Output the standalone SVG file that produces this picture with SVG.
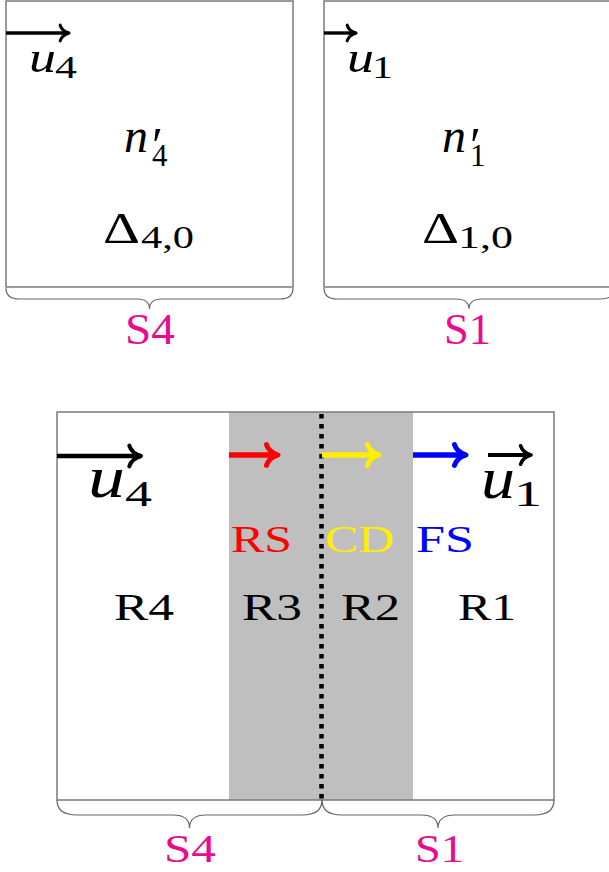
<svg xmlns="http://www.w3.org/2000/svg" width="609" height="872" viewBox="0 0 609 872">
<style>
.box{fill:none;stroke:#7a7a7a;stroke-width:1.5}
.brace{fill:none;stroke:#666;stroke-width:1.2}
.m{font-family:"Liberation Serif","DejaVu Serif",serif;font-style:italic;fill:#000}
.r{font-family:"Liberation Serif","DejaVu Serif",serif;fill:#000}
.up{font-style:normal}
.lab{font-family:"Liberation Serif","DejaVu Serif",serif;fill:#ea0a8c}
.arr{fill:none;stroke-linecap:butt}
</style>
<defs>
<marker id="hk" viewBox="-4 -4 6 8" markerWidth="6" markerHeight="8" refX="0" refY="0" orient="auto" markerUnits="strokeWidth" overflow="visible">
<path d="M-2.6,-2.3 C-2.2,-1 -1,-0.3 0,0 C-1,0.3 -2.2,1 -2.6,2.3" fill="none" stroke="#000" stroke-width="0.9" stroke-linecap="round" stroke-linejoin="round"/>
</marker>
<marker id="hr" viewBox="-4 -4 6 8" markerWidth="6" markerHeight="8" refX="0" refY="0" orient="auto" markerUnits="strokeWidth" overflow="visible">
<path d="M-2.1,-1.9 C-1.8,-0.9 -0.9,-0.3 0,0 C-0.9,0.3 -1.8,0.9 -2.1,1.9" fill="none" stroke="#ff0000" stroke-width="0.9" stroke-linecap="round" stroke-linejoin="round"/>
</marker>
<marker id="hy" viewBox="-4 -4 6 8" markerWidth="6" markerHeight="8" refX="0" refY="0" orient="auto" markerUnits="strokeWidth" overflow="visible">
<path d="M-2.1,-1.9 C-1.8,-0.9 -0.9,-0.3 0,0 C-0.9,0.3 -1.8,0.9 -2.1,1.9" fill="none" stroke="#ffee00" stroke-width="0.9" stroke-linecap="round" stroke-linejoin="round"/>
</marker>
<marker id="hb" viewBox="-4 -4 6 8" markerWidth="6" markerHeight="8" refX="0" refY="0" orient="auto" markerUnits="strokeWidth" overflow="visible">
<path d="M-2.1,-1.9 C-1.8,-0.9 -0.9,-0.3 0,0 C-0.9,0.3 -1.8,0.9 -2.1,1.9" fill="none" stroke="#0000ff" stroke-width="0.9" stroke-linecap="round" stroke-linejoin="round"/>
</marker>
</defs>

<g id="state-S4">
<rect class="box" x="6" y="1" width="287" height="286"/>
<text class="m" x="29" y="72" font-size="44" textLength="27" lengthAdjust="spacingAndGlyphs">u</text>
<text class="r" x="55" y="78" font-size="31" textLength="22" lengthAdjust="spacingAndGlyphs">4</text>
<text class="m"><tspan x="124" y="152" font-size="48">n</tspan><tspan class="up" x="152" y="162" font-size="50">′</tspan><tspan class="up" x="152" y="166" font-size="31">4</tspan></text>
<text class="r" x="103" y="243" font-size="45" textLength="37" lengthAdjust="spacingAndGlyphs">Δ</text>
<text class="r" x="141" y="248" font-size="31" textLength="53" lengthAdjust="spacingAndGlyphs">4,0</text>
<path class="brace" d="M6,288 C6,295 10,299 19,299 L137,299 C145,299 149.5,302 149.5,309 C149.5,302 154,299 162,299 L280,299 C289,299 293,295 293,288"/>
<text class="lab" x="125" y="344" font-size="45" textLength="50" lengthAdjust="spacingAndGlyphs">S4</text>
</g>

<g id="state-S1">
<rect class="box" x="324" y="1" width="300" height="286"/>
<text class="m" x="347" y="72" font-size="44" textLength="27" lengthAdjust="spacingAndGlyphs">u</text>
<text class="r" x="372" y="78" font-size="31" textLength="21" lengthAdjust="spacingAndGlyphs">1</text>
<text class="m"><tspan x="442" y="152" font-size="48">n</tspan><tspan class="up" x="470" y="162" font-size="50">′</tspan><tspan class="up" x="470" y="166" font-size="31">1</tspan></text>
<text class="r" x="422" y="243" font-size="45" textLength="37" lengthAdjust="spacingAndGlyphs">Δ</text>
<text class="r" x="458" y="248" font-size="31" textLength="55" lengthAdjust="spacingAndGlyphs">1,0</text>
<path class="brace" d="M324,288 C324,295 328,299 337,299 L456,299 C464,299 469,302 469,309 C469,302 474,299 482,299 L601,299 C610,299 614,295 614,288"/>
<text class="lab" x="444" y="344" font-size="45" textLength="47" lengthAdjust="spacingAndGlyphs">S1</text>
</g>

<g id="solution">
<rect x="229" y="412" width="184" height="388" fill="#bfbfbf"/>
<rect class="box" x="57" y="412" width="497" height="388"/>
<line x1="321.5" y1="414" x2="321.5" y2="800" stroke="#000" stroke-width="4.5" stroke-dasharray="4.5 5.5"/>
</g>

<g id="region-R4"><text class="r" x="114" y="620" font-size="38.5" textLength="60" lengthAdjust="spacingAndGlyphs">R4</text></g>
<g id="region-R3"><text class="r" x="242" y="620" font-size="38.5" textLength="60" lengthAdjust="spacingAndGlyphs">R3</text></g>
<g id="region-R2"><text class="r" x="341" y="620" font-size="38.5" textLength="59" lengthAdjust="spacingAndGlyphs">R2</text></g>
<g id="region-R1"><text class="r" x="458" y="620" font-size="38.5" textLength="58" lengthAdjust="spacingAndGlyphs">R1</text></g>

<g id="wave-RS"><text x="231" y="552" font-size="38.5" fill="#ff0000" font-family="Liberation Serif, DejaVu Serif, serif" textLength="61" lengthAdjust="spacingAndGlyphs">RS</text></g>
<g id="wave-CD"><text x="325" y="552" font-size="38.5" fill="#ffee00" font-family="Liberation Serif, DejaVu Serif, serif" textLength="69" lengthAdjust="spacingAndGlyphs">CD</text></g>
<g id="wave-FS"><text x="416" y="552" font-size="38.5" fill="#0000ff" font-family="Liberation Serif, DejaVu Serif, serif" textLength="58" lengthAdjust="spacingAndGlyphs">FS</text></g>

<g id="vel-u4">
<text class="m" x="88" y="497" font-size="60" textLength="37" lengthAdjust="spacingAndGlyphs">u</text>
<text class="r" x="125" y="506" font-size="35" textLength="27" lengthAdjust="spacingAndGlyphs">4</text>
</g>
<g id="vel-u1">
<text class="m" x="481" y="498" font-size="60" textLength="34" lengthAdjust="spacingAndGlyphs">u</text>
<text class="r" x="514" y="506" font-size="35" textLength="28" lengthAdjust="spacingAndGlyphs">1</text>
</g>

<g id="bottom-braces">
<path class="brace" d="M57,800 C57,810 63,815 77,815 L173,815 C183,815 189.5,819 189.5,828 C189.5,819 196,815 206,815 L302,815 C316,815 322,810 322,800"/>
<text class="lab" x="164" y="862" font-size="39" textLength="52" lengthAdjust="spacingAndGlyphs">S4</text>
<path class="brace" d="M322,800 C322,810 328,815 342,815 L421,815 C431,815 438,819 438,828 C438,819 445,815 455,815 L534,815 C548,815 554,810 554,800"/>
<text class="lab" x="415" y="862" font-size="39" textLength="49" lengthAdjust="spacingAndGlyphs">S1</text>
</g>

<g id="arrows">
<line class="arr" x1="6" y1="33" x2="69" y2="33" stroke="#000" stroke-width="3.4" marker-end="url(#hk)"/>
<line class="arr" x1="324" y1="33" x2="356" y2="33" stroke="#000" stroke-width="3.4" marker-end="url(#hk)"/>
<line class="arr" x1="57" y1="456" x2="141" y2="456" stroke="#000" stroke-width="4.5" marker-end="url(#hk)"/>
<line class="arr" x1="229" y1="455" x2="278" y2="455" stroke="#ff0000" stroke-width="5.5" marker-end="url(#hr)"/>
<line class="arr" x1="322" y1="455" x2="379" y2="455" stroke="#ffee00" stroke-width="5.5" marker-end="url(#hy)"/>
<line class="arr" x1="413" y1="455" x2="466" y2="455" stroke="#0000ff" stroke-width="5.5" marker-end="url(#hb)"/>
<line class="arr" x1="488" y1="455" x2="531" y2="455" stroke="#000" stroke-width="4" marker-end="url(#hk)"/>
</g>
</svg>
